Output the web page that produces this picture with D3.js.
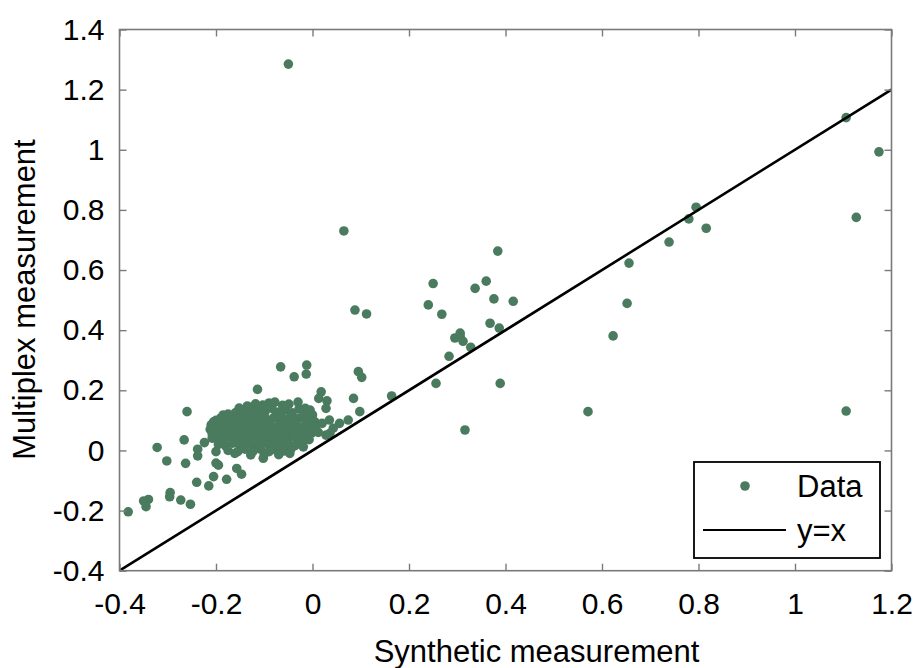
<!DOCTYPE html>
<html>
<head>
<meta charset="utf-8">
<script src="https://cdn.jsdelivr.net/npm/d3@7"></script>
<style>
    body { margin: 0; background: #fff; }
    #scatter { width: 917px; height: 668px; }
    .axis text { font-family: "Liberation Sans", Arial, Helvetica, sans-serif; font-size: 30px; fill: #000; }
    .label { font-family: "Liberation Sans", Arial, Helvetica, sans-serif; font-size: 31px; fill: #000; }
</style>
</head>
<body>
<div id="scatter"></div>
<script>

// tick values
let xTicks = [-0.4, -0.2, 0, 0.2, 0.4, 0.6, 0.8, 1, 1.2];
let yTicks = [-0.4, -0.2, 0, 0.2, 0.4, 0.6, 0.8, 1, 1.2, 1.4];

// the dense blob around (-0.1, 0.07)
let clusterPoints = [
    [-0.175,0.121],[-0.152,0.141],[-0.135,0.148],[-0.118,0.155],[-0.103,0.151],[-0.09,0.158],[-0.078,0.161],
    [-0.062,0.15],[-0.049,0.154],[-0.03,0.161],[-0.005,0.134],[-0.015,0.14],[-0.14,0.13],[-0.16,0.125],
    [-0.19,0.108],[-0.2,0.1],
    [-0.205,0.095],[-0.185,0.118],[-0.168,0.11],[-0.155,0.12],[-0.142,0.118],[-0.128,0.13],[-0.112,0.135],
    [-0.098,0.13],[-0.084,0.14],[-0.07,0.128],[-0.056,0.136],[-0.042,0.125],[-0.028,0.138],[-0.018,0.115],
    [0.0,0.118],[-0.065,0.112],[-0.12,0.11],
    [-0.21,0.085],[-0.196,0.09],[-0.182,0.098],[-0.17,0.092],[-0.158,0.1],[-0.146,0.095],[-0.134,0.104],
    [-0.122,0.098],[-0.108,0.106],[-0.095,0.1],[-0.081,0.108],[-0.068,0.098],[-0.053,0.104],[-0.04,0.1],
    [-0.027,0.108],[-0.012,0.1],[0.005,0.095],[-0.1,0.115],[-0.075,0.12],[-0.045,0.113],
    [-0.212,0.07],[-0.2,0.075],[-0.188,0.08],[-0.176,0.072],[-0.163,0.082],[-0.15,0.078],[-0.138,0.085],
    [-0.126,0.077],[-0.113,0.086],[-0.1,0.08],[-0.088,0.088],[-0.074,0.078],[-0.061,0.085],[-0.048,0.08],
    [-0.035,0.087],[-0.021,0.079],[-0.008,0.084],[0.006,0.078],[-0.13,0.092],[-0.09,0.094],[-0.058,0.092],
    [-0.165,0.088],
    [-0.208,0.055],[-0.195,0.06],[-0.183,0.052],[-0.17,0.062],[-0.158,0.056],[-0.145,0.064],[-0.132,0.058],
    [-0.12,0.066],[-0.106,0.06],[-0.093,0.068],[-0.08,0.058],[-0.067,0.066],[-0.054,0.06],[-0.041,0.068],
    [-0.028,0.058],[-0.015,0.064],[-0.002,0.058],[-0.11,0.072],[-0.075,0.07],[-0.14,0.07],[-0.035,0.072],
    [-0.2,0.04],[-0.187,0.035],[-0.175,0.044],[-0.162,0.038],[-0.15,0.045],[-0.137,0.036],[-0.124,0.043],
    [-0.111,0.038],[-0.098,0.046],[-0.085,0.036],[-0.072,0.044],[-0.059,0.038],[-0.046,0.046],[-0.033,0.038],
    [-0.02,0.044],[-0.007,0.036],[-0.118,0.05],[-0.088,0.052],[-0.06,0.05],
    [-0.195,0.02],[-0.18,0.015],[-0.165,0.024],[-0.15,0.018],[-0.135,0.022],[-0.12,0.014],[-0.105,0.024],
    [-0.09,0.016],[-0.078,0.022],[-0.064,0.014],[-0.05,0.022],[-0.036,0.016],[-0.022,0.024],[-0.14,0.03],
    [-0.095,0.03],[-0.07,0.028],
    [-0.175,0.0],[-0.155,-0.004],[-0.14,0.004],[-0.123,-0.002],[-0.108,0.004],[-0.09,-0.004],[-0.075,0.002],
    [-0.06,-0.002],[-0.045,0.004],[-0.128,-0.015],[-0.1,-0.012],[-0.07,-0.014],[-0.161,-0.01],[-0.102,-0.026],
    [-0.047,-0.01],[-0.019,0.012]
];

// spread below / left of the blob
let lowPoints = [
    [-0.26,0.129],[-0.322,0.01],[-0.302,-0.035],[-0.266,0.035],[-0.263,-0.043],[-0.238,0.004],[-0.238,-0.018],
    [-0.224,0.026],[-0.24,-0.106],[-0.215,-0.118],[-0.205,-0.087],[-0.295,-0.14],[-0.296,-0.154],[-0.273,-0.165],
    [-0.253,-0.179],[-0.35,-0.168],[-0.34,-0.163],[-0.345,-0.187],[-0.382,-0.204],
    [-0.157,-0.06],[-0.147,-0.079],[-0.178,-0.096],[-0.195,-0.049],[-0.208,0.041],[-0.2,-0.004],[-0.2,-0.042]
];

// points right of and above the blob, up to x = 0.2
let nearPoints = [
    [-0.066,0.278],[-0.012,0.284],[-0.013,0.254],[-0.038,0.245],[-0.114,0.203],
    [0.018,0.195],[0.013,0.173],[0.03,0.165],[0.028,0.14],[0.035,0.101],[0.056,0.09],[0.074,0.101],
    [0.043,0.074],[0.036,0.057],[0.028,0.051],[0.02,0.09],[0.012,0.06],
    [-0.05,1.285],[0.065,0.73],[0.088,0.467],[0.112,0.454],[0.095,0.262],[0.102,0.243],
    [0.164,0.181],[0.085,0.173],[0.098,0.129]
];

// points beyond x = 0.2
let farPoints = [
    [0.25,0.555],[0.24,0.484],[0.268,0.453],[0.384,0.663],[0.337,0.539],[0.36,0.563],[0.376,0.504],
    [0.416,0.496],[0.368,0.423],[0.387,0.407],[0.306,0.38],[0.295,0.374],[0.306,0.39],[0.312,0.363],
    [0.328,0.343],[0.283,0.313],[0.256,0.223],[0.389,0.223],[0.316,0.068],
    [0.623,0.381],[0.571,0.129],[0.656,0.623],[0.652,0.489],
    [0.739,0.693],[0.78,0.77],[0.795,0.809],[0.816,0.739],
    [1.106,1.107],[1.174,0.993],[1.127,0.775],[1.106,0.131]
];

let legendLabels = ["Data", "y=x"];
let lineEnds = [-0.4, 1.2];


class ScatterVis {

    constructor(parentElement, data) {
        this.parentElement = parentElement;
        this.data = data;
        this.initVis();
    }

    initVis() {
        let vis = this;

        vis.margin = {top: 29.5, right: 25.5, bottom: 97.3, left: 119.5};
        vis.width = 917 - vis.margin.left - vis.margin.right;
        vis.height = 668 - vis.margin.top - vis.margin.bottom;

        vis.svg = d3.select("#" + vis.parentElement).append("svg")
            .attr("width", 917)
            .attr("height", 668)
            .append("g")
            .attr("transform", `translate(${vis.margin.left}, ${vis.margin.top})`);

        // scales
        vis.x = d3.scaleLinear().domain([-0.4, 1.2]).range([0, vis.width]);
        vis.y = d3.scaleLinear().domain([-0.4, 1.4]).range([vis.height, 0]);

        vis.color = "#4a7b5f";
        vis.axisColor = "#7a7a7a";

        // points
        vis.svg.append("g")
            .attr("class", "dots")
            .selectAll("circle")
            .data(vis.data)
            .enter()
            .append("circle")
            .attr("cx", d => vis.x(d[0]))
            .attr("cy", d => vis.y(d[1]))
            .attr("r", 4.8)
            .attr("fill", vis.color);

        // y = x line
        vis.svg.append("line")
            .attr("x1", vis.x(lineEnds[0]))
            .attr("y1", vis.y(lineEnds[0]))
            .attr("x2", vis.x(lineEnds[1]))
            .attr("y2", vis.y(lineEnds[1]))
            .attr("stroke", "#000")
            .attr("stroke-width", 2.6);

        // axes with inward ticks on all four sides, matlab style labels (plain hyphen)
        let fmt = d => String(+d.toFixed(1));

        vis.svg.append("g")
            .attr("class", "x axis")
            .attr("transform", `translate(0, ${vis.height})`)
            .call(d3.axisBottom(vis.x).tickValues(xTicks).tickSize(-7).tickPadding(22).tickFormat(fmt));

        vis.svg.append("g")
            .attr("class", "x axis top")
            .call(d3.axisTop(vis.x).tickValues(xTicks).tickSize(-7).tickFormat(""));

        vis.svg.append("g")
            .attr("class", "y axis")
            .call(d3.axisLeft(vis.y).tickValues(yTicks).tickSize(-7).tickPadding(15).tickFormat(fmt));

        vis.svg.append("g")
            .attr("class", "y axis right")
            .attr("transform", `translate(${vis.width}, 0)`)
            .call(d3.axisRight(vis.y).tickValues(yTicks).tickSize(-7).tickFormat(""));

        vis.svg.selectAll(".axis path.domain").remove();
        vis.svg.selectAll(".axis line")
            .attr("stroke", vis.axisColor)
            .attr("stroke-width", 1.4);

        vis.svg.append("rect")
            .attr("x", 0)
            .attr("y", 0)
            .attr("width", vis.width)
            .attr("height", vis.height)
            .attr("fill", "none")
            .attr("stroke", vis.axisColor)
            .attr("stroke-width", 1.6);

        // axis titles
        vis.svg.append("text")
            .attr("class", "label")
            .attr("x", 417)
            .attr("y", vis.height + 91)
            .attr("text-anchor", "middle")
            .text("Synthetic measurement");

        vis.svg.append("text")
            .attr("class", "label")
            .attr("transform", `translate(${35 - vis.margin.left}, ${270}) rotate(-90)`)
            .attr("text-anchor", "middle")
            .text("Multiplex measurement");

        // legend
        let lg = vis.svg.append("g")
            .attr("class", "legend")
            .attr("transform", `translate(${694 - vis.margin.left}, ${462 - vis.margin.top})`);

        lg.append("rect")
            .attr("width", 186)
            .attr("height", 96)
            .attr("fill", "#fff")
            .attr("stroke", "#000")
            .attr("stroke-width", 1.8);

        lg.append("circle")
            .attr("cx", 51)
            .attr("cy", 24)
            .attr("r", 4.8)
            .attr("fill", vis.color);

        lg.append("line")
            .attr("x1", 9)
            .attr("x2", 92)
            .attr("y1", 68)
            .attr("y2", 68)
            .attr("stroke", "#000")
            .attr("stroke-width", 2);

        lg.selectAll("text.entry")
            .data(legendLabels)
            .enter()
            .append("text")
            .attr("class", "label entry")
            .attr("x", 103)
            .attr("y", (d, i) => 35 + i * 44)
            .text(d => d);
    }
}

let allPoints = clusterPoints.concat(lowPoints, nearPoints, farPoints);
let scatterVis = new ScatterVis("scatter", allPoints);

</script>
</body>
</html>
